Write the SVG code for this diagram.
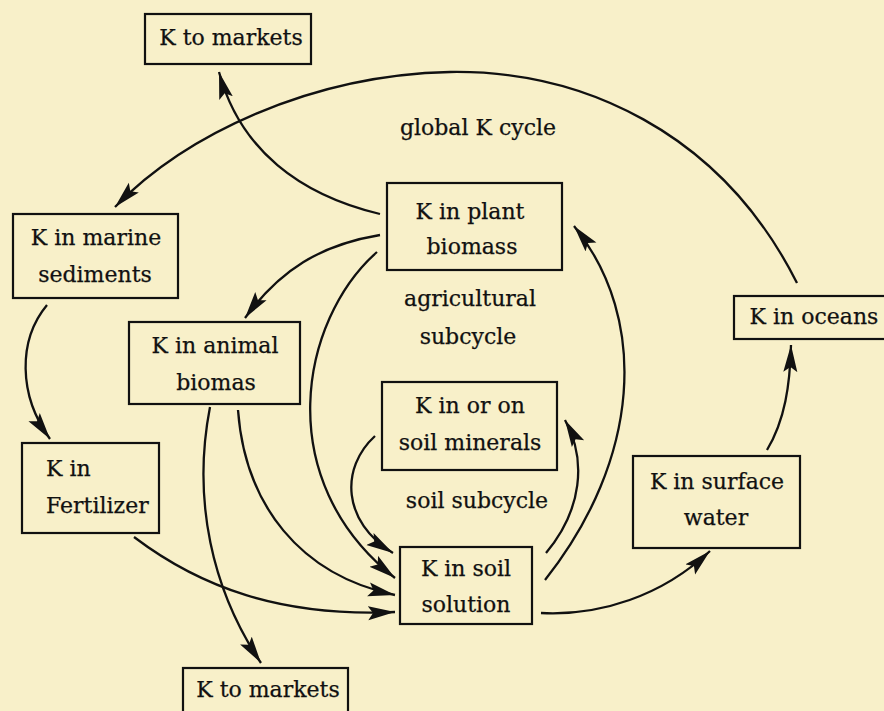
<svg xmlns="http://www.w3.org/2000/svg" width="884" height="711" viewBox="0 0 884 711">
  <style>
    .box { fill: none; stroke: #111; stroke-width: 2.2; }
    .flow { fill: none; stroke: #111; stroke-width: 2.3; marker-end: url(#head); }
    .t { font-family: "DejaVu Serif", "Liberation Serif", serif; font-size: 22px; fill: #111; text-anchor: middle; stroke: #111; stroke-width: 0.25; }
  </style>
  <defs>
    <marker id="head" markerUnits="userSpaceOnUse" markerWidth="30" markerHeight="16" refX="27" refY="7.5" orient="auto">
      <path d="M0,0.5 L27,7.5 L0,14.5 L5,7.5 z" fill="#111"/>
    </marker>
  </defs>

  <rect width="884" height="711" fill="#f8f0c9"/>

  <!-- cycle labels -->
  <g id="labels">
    <text class="t" x="478" y="135">global K cycle</text>
    <text class="t" x="470" y="306">agricultural</text>
    <text class="t" x="468" y="344">subcycle</text>
    <text class="t" x="477" y="508">soil subcycle</text>
  </g>

  <!-- connectors -->
  <g id="connectors">
    <path class="flow" d="M380,214 C300,195 240,150 219,72"/>
    <path class="flow" d="M797,283 C720,130 580,70 450,72 C310,75 185,135 115,207"/>
    <path class="flow" d="M380,235 C320,245 280,270 245,318"/>
    <path class="flow" d="M377,252 C300,320 270,480 395,578"/>
    <path class="flow" d="M545,580 C640,460 650,320 574,226"/>
    <path class="flow" d="M375,436 C340,468 342,522 393,553"/>
    <path class="flow" d="M546,553 C582,510 587,460 565,420"/>
    <path class="flow" d="M238,410 C245,505 300,575 395,595"/>
    <path class="flow" d="M210,407 C192,500 212,590 261,663"/>
    <path class="flow" d="M134,537 C200,587 280,617 395,612"/>
    <path class="flow" d="M47,305 C18,340 18,395 50,439"/>
    <path class="flow" d="M541,613 C600,616 662,596 710,551"/>
    <path class="flow" d="M767,450 C785,420 790,385 791,345"/>
  </g>

  <g id="markets-top">
    <rect class="box" x="145" y="14" width="166" height="50"/>
    <text class="t" x="231" y="45">K to markets</text>
  </g>

  <g id="marine-sediments">
    <rect class="box" x="13" y="214" width="165" height="84"/>
    <text class="t" x="96" y="245">K in marine</text>
    <text class="t" x="95" y="282">sediments</text>
  </g>

  <g id="plant-biomass">
    <rect class="box" x="387" y="183" width="175" height="87"/>
    <text class="t" x="470" y="219">K in plant</text>
    <text class="t" x="472" y="254">biomass</text>
  </g>

  <g id="oceans">
    <rect class="box" x="734" y="296" width="152" height="43"/>
    <text class="t" x="814" y="324">K in oceans</text>
  </g>

  <g id="animal-biomass">
    <rect class="box" x="129" y="322" width="171" height="82"/>
    <text class="t" x="215" y="353">K in animal</text>
    <text class="t" x="216" y="390">biomas</text>
  </g>

  <g id="fertilizer">
    <rect class="box" x="22" y="443" width="137" height="90"/>
    <text class="t" style="text-anchor:start" x="46" y="476">K in</text>
    <text class="t" style="text-anchor:start" x="46" y="513">Fertilizer</text>
  </g>

  <g id="soil-minerals">
    <rect class="box" x="382" y="382" width="175" height="88"/>
    <text class="t" x="470" y="413">K in or on</text>
    <text class="t" x="470" y="450">soil minerals</text>
  </g>

  <g id="soil-solution">
    <rect class="box" x="400" y="547" width="132" height="77"/>
    <text class="t" x="466" y="576">K in soil</text>
    <text class="t" x="466" y="612">solution</text>
  </g>

  <g id="surface-water">
    <rect class="box" x="633" y="456" width="167" height="92"/>
    <text class="t" x="717" y="489">K in surface</text>
    <text class="t" x="716" y="525">water</text>
  </g>

  <g id="markets-bottom">
    <rect class="box" x="183" y="668" width="165" height="46"/>
    <text class="t" x="268" y="697">K to markets</text>
  </g>
</svg>
